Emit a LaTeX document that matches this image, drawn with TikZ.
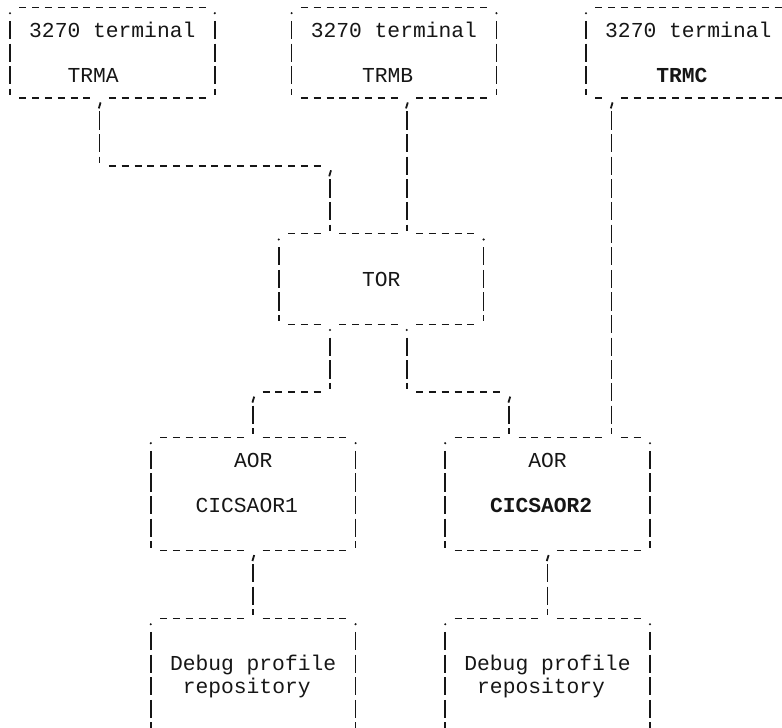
\documentclass[tikz,border=0pt]{standalone}
\usepackage{fontspec}
\newfontfamily\plexlike{Liberation Mono}
\usetikzlibrary{calc}
\definecolor{ink}{HTML}{161616}
\tikzset{
  hdash/.style={draw=ink, line width=1.4pt, dash pattern=on 7pt off 5.8pt},
  vdash/.style={draw=ink, line width=1.5pt, dash pattern=on 18.3pt off 4.33pt},
  commastroke/.style={draw=ink, line width=1.8pt},
  lbl/.style={anchor=base west, inner sep=0pt, outer sep=0pt, text=ink,
    xshift=-6.4pt, yshift=-7.2pt, font=\plexlike\fontsize{21.3pt}{22.63pt}\selectfont},
  blbl/.style={lbl, font=\plexlike\bfseries\fontsize{21.3pt}{22.63pt}\selectfont},
  boxn/.style={draw=none, inner sep=0pt, outer sep=0pt, minimum width=204.8pt},
}
% glyph-like marks
\newcommand\cmk[1]{\draw[commastroke] ($(#1)+(1pt,-4.5pt)$) -- ++(-1.8pt,-6pt);}
\newcommand\dtk[1]{\fill[ink] ($(#1)+(0pt,-5.8pt)$) circle (1.15pt);}
\newcommand\vrun[2]{\draw[vdash] ($(#1)+(0,1)+(0pt,9.15pt)$) -- ($(#2)+(0pt,3pt)$);}
\newcommand\hrun[2]{\draw[hdash] ($(#1)+(-3.5pt,0pt)$) -- ($(#2)+(3.5pt,0pt)$);}
\newcommand\hlink[2]{\draw[hdash] ($(#1)+(1,0)+(-3.5pt,0pt)$) -- ($(#2)+(-1,0)+(3.5pt,0pt)$);}
\newcommand\sides[1]{%
  \dtk{#1.north west}\dtk{#1.north east}%
  \vrun{#1.north west}{#1.south west}\vrun{#1.north east}{#1.south east}}
\begin{document}
\begin{tikzpicture}[x=12.8pt, y=-22.63pt]
\useasboundingbox (-10pt,7.4pt) rectangle (772pt,-720.6pt);
\clip (-10pt,7.4pt) rectangle (772pt,-720.6pt);

% ---------- boxes ----------
\node[boxn, minimum height=90.52pt] (trma) at (8,2) {};
\node[boxn, minimum height=90.52pt] (trmb) at (30,2) {};
\node[boxn, minimum height=90.52pt] (trmc) at (53,2) {};
\node[boxn, minimum height=90.52pt] (tor) at (29,12) {};
\node[boxn, minimum height=113.15pt] (aor1) at (19,21.5) {};
\node[boxn, minimum height=113.15pt] (aor2) at (42,21.5) {};
\node[boxn, minimum height=135.78pt] (dbg1) at (19,30) {};
\node[boxn, minimum height=135.78pt] (dbg2) at (42,30) {};

\sides{trma}\sides{trmb}\sides{trmc}\sides{tor}
\sides{aor1}\sides{aor2}\sides{dbg1}\sides{dbg2}

% top and bottom edges
\hrun{1,0}{15,0} \hrun{1,4}{6,4} \hrun{8,4}{15,4}
\hrun{23,0}{37,0} \hrun{23,4}{30,4} \hrun{32,4}{37,4}
\hrun{46,0}{60,0} \hrun{46,4}{46,4} \hrun{48,4}{60,4}
\hrun{22,10}{24,10} \hrun{26,10}{30,10} \hrun{32,10}{36,10}
\hrun{22,14}{24,14} \hrun{26,14}{30,14} \hrun{32,14}{36,14}
\hrun{12,19}{18,19} \hrun{20,19}{26,19}
\hrun{12,24}{18,24} \hrun{20,24}{26,24}
\hrun{35,19}{38,19} \hrun{40,19}{46,19} \hrun{48,19}{49,19}
\hrun{35,24}{41,24} \hrun{43,24}{49,24}
\hrun{12,27}{18,27} \hrun{20,27}{26,27}
\hrun{35,27}{41,27} \hrun{43,27}{49,27}

% ---------- texts ----------
\node[lbl] (trma-t1) at (2,1) {3270 terminal};
\node[lbl] (trma-t2) at (5,3) {TRMA};
\node[lbl] (trmb-t1) at (24,1) {3270 terminal};
\node[lbl] (trmb-t2) at (28,3) {TRMB};
\node[lbl] (trmc-t1) at (47,1) {3270 terminal};
\node[blbl] (trmc-t2) at (51,3) {TRMC};
\node[lbl] (tor-t) at (28,12) {TOR};
\node[lbl] (aor1-t1) at (18,20) {AOR};
\node[lbl] (aor1-t2) at (15,22) {CICSAOR1};
\node[lbl] (aor2-t1) at (41,20) {AOR};
\node[blbl] (aor2-t2) at (38,22) {CICSAOR2};
\node[lbl] (dbg1-t1) at (13,29) {Debug profile};
\node[lbl] (dbg1-t2) at (14,30) {repository};
\node[lbl] (dbg2-t1) at (36,29) {Debug profile};
\node[lbl] (dbg2-t2) at (37,30) {repository};

% ---------- ports and bends ----------
\coordinate (trma-out) at ($(trma.south)+(-1,0)$);
\coordinate (trmb-out) at ($(trmb.south)+(1,0)$);
\coordinate (trmc-out) at ($(trmc.south)+(-6,0)$);
\coordinate (tor-in1) at ($(tor.north)+(-4,0)$);
\coordinate (tor-in2) at ($(tor.north)+(2,0)$);
\coordinate (tor-out1) at ($(tor.south)+(-4,0)$);
\coordinate (tor-out2) at ($(tor.south)+(2,0)$);
\coordinate (aor1-in) at (aor1.north);
\coordinate (aor1-out) at (aor1.south);
\coordinate (aor2-in1) at ($(aor2.north)+(-3,0)$);
\coordinate (aor2-in2) at ($(aor2.north)+(5,0)$);
\coordinate (aor2-out) at (aor2.south);
\coordinate (dbg1-in) at (dbg1.north);
\coordinate (dbg2-in) at (dbg2.north);
\coordinate (b1) at (trma-out |- 0,7);
\coordinate (b2) at (tor-in1 |- 0,7);
\coordinate (b3) at (aor1-in |- 0,17);
\coordinate (b4) at (tor-out1 |- 0,17);
\coordinate (b5) at (tor-out2 |- 0,17);
\coordinate (b6) at (aor2-in1 |- 0,17);

% ---------- connectors ----------
% TRMA -> TOR
\cmk{trma-out} \vrun{trma-out}{b1} \hlink{b1}{b2} \cmk{b2} \vrun{b2}{tor-in1}
% TRMB -> TOR
\cmk{trmb-out} \vrun{trmb-out}{tor-in2}
% TRMC -> AOR2
\cmk{trmc-out} \vrun{trmc-out}{aor2-in2}
% TOR -> AOR1
\dtk{tor-out1} \vrun{tor-out1}{b4} \hlink{b3}{b4} \cmk{b3} \vrun{b3}{aor1-in}
% TOR -> AOR2
\dtk{tor-out2} \vrun{tor-out2}{b5} \hlink{b5}{b6} \cmk{b6} \vrun{b6}{aor2-in1}
% AOR1 -> Debug 1, AOR2 -> Debug 2
\cmk{aor1-out} \vrun{aor1-out}{dbg1-in}
\cmk{aor2-out} \vrun{aor2-out}{dbg2-in}
\end{tikzpicture}
\end{document}
